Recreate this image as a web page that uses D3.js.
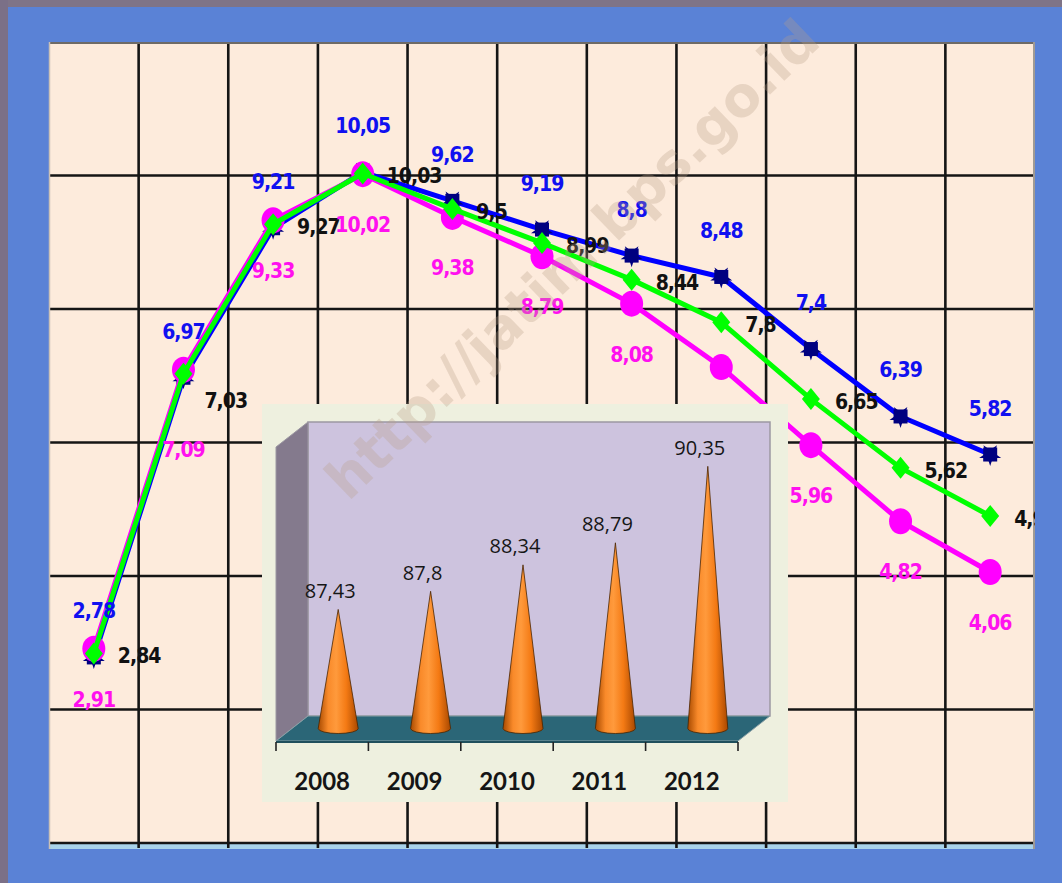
<!DOCTYPE html>
<html>
<head>
<meta charset="utf-8">
<script src="https://cdn.jsdelivr.net/npm/d3@7"></script>
<style>
  html, body { margin: 0; padding: 0; background: #5a82d6; }
  svg { display: block; }
</style>
</head>
<body>
<svg id="chart" width="1062" height="883"></svg>
<script>
// ---- Line chart data (11 points per series) ----
const categories = ["1", "2", "3", "4", "5", "6", "7", "8", "9", "10", "11"];
const seriesBlue = [2.78, 6.97, 9.21, 10.05, 9.62, 9.19, 8.8, 8.48, 7.4, 6.39, 5.82];
const seriesGreen = [2.84, 7.03, 9.27, 10.03, 9.5, 8.99, 8.44, 7.8, 6.65, 5.62, 4.9];
const seriesMagenta = [2.91, 7.09, 9.33, 10.02, 9.38, 8.79, 8.08, 7.13, 5.96, 4.82, 4.06];
const yTicks = [0, 2, 4, 6, 8, 10, 12];

// ---- Inset cone chart data ----
const insetYears = ["2008", "2009", "2010", "2011", "2012"];
const insetValues = [87.43, 87.8, 88.34, 88.79, 90.35];
const insetDomain = [85, 91];

const watermark = "http://jatim.bps.go.id";

const W = 1062, H = 883;
const fmt = v => String(v).replace(".", ",");
const svg = d3.select("#chart");
const defs = svg.append("defs");

// ---- outer frame ----
svg.append("rect").attr("width", W).attr("height", H).attr("fill", "#5a82d6");
svg.append("rect").attr("width", W).attr("height", 7).attr("fill", "#7f7487");
svg.append("rect").attr("width", 8).attr("height", H).attr("fill", "#7b7087");

// ---- main plot ----
const plot = { left: 49, top: 42, right: 1035, bottom: 843 };
const x = d3.scaleBand().domain(categories).range([plot.left, plot.right]);
const y = d3.scaleLinear().domain([yTicks[0], yTicks[yTicks.length - 1]]).range([plot.bottom, plot.top]);
const cx = i => x(categories[i]) + x.bandwidth() / 2;

defs.append("clipPath").attr("id", "plotClip")
  .append("rect").attr("x", plot.left).attr("y", plot.top)
  .attr("width", plot.right - plot.left).attr("height", plot.bottom - plot.top + 6);

svg.append("rect")
  .attr("x", plot.left).attr("y", plot.top)
  .attr("width", plot.right - plot.left).attr("height", plot.bottom - plot.top)
  .attr("fill", "#fdebdc");
svg.append("rect")
  .attr("x", plot.left).attr("y", plot.bottom + 1)
  .attr("width", plot.right - plot.left).attr("height", 5)
  .attr("fill", "#a9d3ea");

const grid = svg.append("g");
grid.selectAll("line.h").data(yTicks.slice(0, -1)).join("line")
  .attr("class", "h")
  .attr("x1", plot.left).attr("x2", plot.right)
  .attr("y1", d => y(d)).attr("y2", d => y(d))
  .attr("stroke", "#151515").attr("stroke-width", 2.6);
grid.selectAll("line.v").data(categories.slice(1)).join("line")
  .attr("class", "v")
  .attr("x1", d => x(d)).attr("x2", d => x(d))
  .attr("y1", plot.top).attr("y2", plot.bottom + 5)
  .attr("stroke", "#151515").attr("stroke-width", 2.6);
// plot edges
grid.append("line").attr("x1", plot.left).attr("x2", plot.right)
  .attr("y1", plot.top + 1).attr("y2", plot.top + 1)
  .attr("stroke", "#6e6a66").attr("stroke-width", 2);
grid.append("line").attr("x1", plot.right - 1).attr("x2", plot.right - 1)
  .attr("y1", plot.top).attr("y2", plot.bottom + 6)
  .attr("stroke", "#a09a94").attr("stroke-width", 2);
grid.append("line").attr("x1", plot.left + 0.5).attr("x2", plot.left + 0.5)
  .attr("y1", plot.top).attr("y2", plot.bottom + 6)
  .attr("stroke", "#c9c0b6").attr("stroke-width", 1.5);

// ---- series ----
const line = d3.line().x((d, i) => cx(i)).y(d => y(d));
const gSeries = svg.append("g");

function drawLine(values, color) {
  gSeries.append("path").datum(values)
    .attr("d", line).attr("fill", "none")
    .attr("stroke", color).attr("stroke-width", 5)
    .attr("stroke-linejoin", "round");
}

// blue: navy square markers with small spikes
drawLine(seriesBlue, "#0000ff");
const star = d3.symbol(d3.symbolStar).size(150)();
const gBlue = gSeries.append("g");
seriesBlue.forEach((v, i) => {
  const g = gBlue.append("g").attr("transform", `translate(${cx(i)},${y(v)})`);
  g.append("path").attr("d", star).attr("fill", "#000080").attr("transform", "rotate(36)");
  g.append("rect").attr("x", -7).attr("y", -7).attr("width", 14).attr("height", 14).attr("fill", "#000080");
});

// magenta: circles
drawLine(seriesMagenta, "#ff00ff");
gSeries.append("g").selectAll("ellipse").data(seriesMagenta).join("ellipse")
  .attr("cx", (d, i) => cx(i)).attr("cy", d => y(d))
  .attr("rx", 11.5).attr("ry", 13).attr("fill", "#ff00ff");

// green: diamonds
drawLine(seriesGreen, "#00ff00");
gSeries.append("g").selectAll("path").data(seriesGreen).join("path")
  .attr("d", (d, i) => {
    const px = cx(i), py = y(d);
    return `M${px},${py - 11} L${px + 9},${py} L${px},${py + 11} L${px - 9},${py} Z`;
  })
  .attr("fill", "#00ff00");

// ---- data labels ----
const gLabels = svg.append("g").attr("clip-path", "url(#plotClip)")
  .style("font-family", "'DejaVu Sans Condensed', 'DejaVu Sans', sans-serif")
  .style("font-weight", "bold").style("font-stretch", "condensed")
  .style("font-size", "21px").style("letter-spacing", "-1px");

gLabels.selectAll("text.blue").data(seriesBlue).join("text")
  .attr("class", "blue")
  .attr("x", (d, i) => cx(i)).attr("y", d => y(d) - 46)
  .attr("text-anchor", "middle").attr("dominant-baseline", "central")
  .attr("fill", "#1010f0").text(fmt);

gLabels.selectAll("text.green").data(seriesGreen).join("text")
  .attr("class", "green")
  .attr("x", (d, i) => cx(i) + (i === 1 ? 21 : 24))
  .attr("y", (d, i) => y(d) + (i === 1 ? 27 : 3))
  .attr("text-anchor", "start").attr("dominant-baseline", "central")
  .attr("fill", "#111").text(fmt);

gLabels.selectAll("text.magenta").data(seriesMagenta).join("text")
  .attr("class", "magenta")
  .attr("x", (d, i) => cx(i))
  .attr("y", (d, i) => y(d) + (i === 1 ? 80 : 51))
  .attr("text-anchor", "middle").attr("dominant-baseline", "central")
  .attr("fill", "#ff10ef").text(fmt);

// ---- inset: 3D cone chart ----
const inset = svg.append("g");
const box = { left: 262, top: 404, right: 788, bottom: 802 };
inset.append("rect")
  .attr("x", box.left).attr("y", box.top)
  .attr("width", box.right - box.left).attr("height", box.bottom - box.top)
  .attr("fill", "#eef0df");

const depth = { dx: 32, dy: -25 };
const xI = d3.scaleBand().domain(insetYears).range([276, 738]);
const yI = d3.scaleLinear().domain(insetDomain).range([741, 447]);
const x0 = xI.range()[0], x1 = xI.range()[1];
const yBase = yI(insetDomain[0]), yTop = yI(insetDomain[1]);

// back wall
inset.append("rect")
  .attr("x", x0 + depth.dx).attr("y", yTop + depth.dy)
  .attr("width", x1 - x0).attr("height", yBase - yTop)
  .attr("fill", "#cdc3de").attr("stroke", "#9c98a2").attr("stroke-width", 1.5);
// side wall
inset.append("path")
  .attr("d", `M${x0},${yTop} L${x0 + depth.dx},${yTop + depth.dy} L${x0 + depth.dx},${yBase + depth.dy} L${x0},${yBase} Z`)
  .attr("fill", "#847a8d").attr("stroke", "#9c98a2").attr("stroke-width", 1);
// floor
inset.append("path")
  .attr("d", `M${x0},${yBase} L${x0 + depth.dx},${yBase + depth.dy} L${x1 + depth.dx},${yBase + depth.dy} L${x1},${yBase} Z`)
  .attr("fill", "#2b6677").attr("stroke", "#8aa0a6").attr("stroke-width", 1);
inset.append("line")
  .attr("x1", x0).attr("x2", x1).attr("y1", yBase + 1).attr("y2", yBase + 1)
  .attr("stroke", "#1f4f5c").attr("stroke-width", 2);

// tick marks at category boundaries
const tickXs = insetYears.map(d => xI(d)).concat([x1]);
inset.selectAll("line.tick").data(tickXs).join("line")
  .attr("class", "tick")
  .attr("x1", d => d).attr("x2", d => d)
  .attr("y1", yBase + 1).attr("y2", yBase + 10)
  .attr("stroke", "#222").attr("stroke-width", 1.6);

// cone gradient
const grad = defs.append("linearGradient").attr("id", "coneGrad")
  .attr("x1", "0").attr("x2", "1").attr("y1", "0").attr("y2", "0");
[[0, "#a84a00"], [0.25, "#f98a2a"], [0.45, "#ff9a3c"], [0.7, "#f47a14"], [1, "#a94800"]]
  .forEach(([o, c]) => grad.append("stop").attr("offset", o).attr("stop-color", c));

const coneR = 20, coneRy = 5;
const coneX = d => xI(d) + xI.bandwidth() / 2 + depth.dx / 2;
const coneBaseY = yBase + depth.dy / 2;
insetValues.forEach((v, i) => {
  const px = coneX(insetYears[i]);
  const apex = yI(v) + depth.dy / 2;
  inset.append("path")
    .attr("d", `M${px},${apex} L${px + coneR},${coneBaseY} A${coneR},${coneRy} 0 0 1 ${px - coneR},${coneBaseY} Z`)
    .attr("fill", "url(#coneGrad)")
    .attr("stroke", "#4a2500").attr("stroke-width", 0.8);
});

// cone value labels
inset.selectAll("text.val").data(insetValues).join("text")
  .attr("class", "val")
  .attr("x", (d, i) => coneX(insetYears[i]) - 8)
  .attr("y", d => yI(d) + depth.dy / 2 - 19)
  .attr("text-anchor", "middle").attr("dominant-baseline", "central")
  .style("font-family", "'Open Sans', Lato, sans-serif")
  .style("font-size", "20px").attr("fill", "#161616")
  .text(fmt);

// year labels
inset.selectAll("text.year").data(insetYears).join("text")
  .attr("class", "year")
  .attr("x", d => xI(d) + xI.bandwidth() / 2)
  .attr("y", 780)
  .attr("text-anchor", "middle").attr("dominant-baseline", "central")
  .style("font-family", "Lato, 'Open Sans', sans-serif")
  .style("font-weight", "bold").style("font-size", "24px")
  .attr("fill", "#151515")
  .text(d => d);

// ---- watermark ----
svg.append("text")
  .attr("transform", "translate(575,262) rotate(-44)")
  .attr("text-anchor", "middle").attr("dominant-baseline", "middle")
  .attr("textLength", 660).attr("lengthAdjust", "spacingAndGlyphs")
  .style("font-family", "'DejaVu Sans', sans-serif")
  .style("font-weight", "bold").style("font-size", "55px")
  .attr("fill", "rgba(185,160,135,0.30)")
  .text(watermark);
</script>
</body>
</html>
